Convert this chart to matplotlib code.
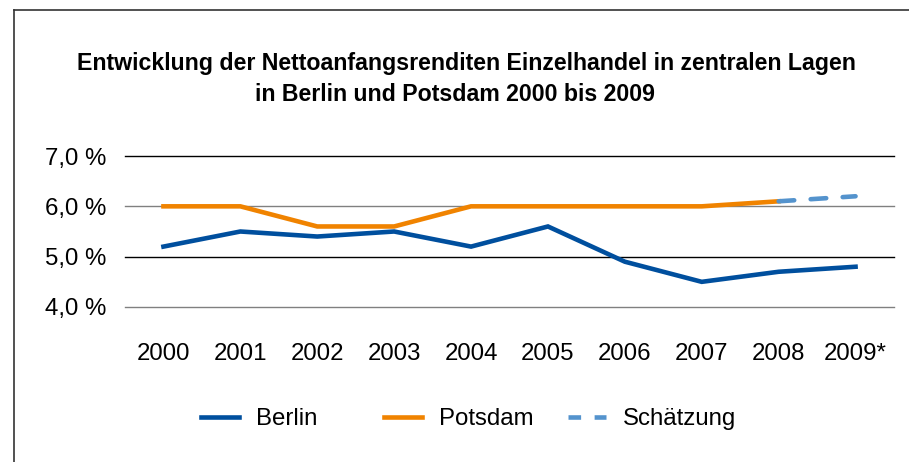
import matplotlib
matplotlib.use("Agg")
import matplotlib.pyplot as plt
from matplotlib.lines import Line2D

years = ["2000", "2001", "2002", "2003", "2004", "2005", "2006", "2007", "2008", "2009*"]
berlin = [5.2, 5.5, 5.4, 5.5, 5.2, 5.6, 4.9, 4.5, 4.7, 4.8]
potsdam = [6.0, 6.0, 5.6, 5.6, 6.0, 6.0, 6.0, 6.0, 6.1]
schaetzung_x = [8, 9]
schaetzung = [6.1, 6.2]
yticks = [4.0, 5.0, 6.0, 7.0]
ytick_labels = ["4,0 %", "5,0 %", "6,0 %", "7,0 %"]
title_lines = ["Entwicklung der Nettoanfangsrenditen Einzelhandel in zentralen Lagen",
               "in Berlin und Potsdam 2000 bis 2009"]
legend_labels = ["Berlin", "Potsdam", "Schätzung"]

plt.rcParams['font.family'] = ['Liberation Sans', 'DejaVu Sans']

W, H = 909, 462
fig = plt.figure(figsize=(W / 100, H / 100), dpi=100)
fig.patch.set_facecolor("white")

ax = fig.add_axes([125 / W, 1 - 307 / H, (894 - 125) / W, (307 - 156) / H])
ax.set_xlim(-0.5, 9.5)
ax.set_ylim(4.0, 7.0)

grid_colors = {4.0: "#808080", 5.0: "#000000", 6.0: "#808080", 7.0: "#000000"}
for y in yticks:
    ax.axhline(y, color=grid_colors[y], lw=1.0, zorder=1, clip_on=False)

blue = "#004f9e"
orange = "#f08300"
light = "#5493cd"
lw = 3.3
fs = 17.3

ax.plot(range(len(berlin)), berlin, color=blue, lw=lw, solid_joinstyle="miter", zorder=3)
ax.plot(range(len(potsdam)), potsdam, color=orange, lw=lw, solid_joinstyle="miter", zorder=3)
ax.plot(schaetzung_x, schaetzung, color=light, lw=lw, dashes=(3.4, 3.6),
        dash_capstyle="round", zorder=4)

for s in ax.spines.values():
    s.set_visible(False)
ax.set_yticks(yticks)
ax.set_yticklabels(ytick_labels, fontsize=fs)
ax.set_xticks(range(len(years)))
ax.set_xticklabels(years, fontsize=fs)
ax.tick_params(axis="y", length=0, pad=13.5)
ax.tick_params(axis="x", length=0, pad=26)

fig.text(466 / W, 1 - 70 / H, title_lines[0], ha="center", va="baseline",
         fontsize=16.7, fontweight="bold")
fig.text(455 / W, 1 - 101 / H, title_lines[1], ha="center", va="baseline",
         fontsize=16.7, fontweight="bold")

handles = [Line2D([], [], color=blue, lw=lw),
           Line2D([], [], color=orange, lw=lw),
           Line2D([], [], color=light, lw=lw, dashes=(2.75, 2.95))]
starts = [201, 384, 568]
for h, lab, x0 in zip(handles, legend_labels, starts):
    fig.legend([h], [lab], loc="center left", bbox_to_anchor=(x0 / W, 1 - 419 / H),
               frameon=False, fontsize=fs, handlelength=1.58, handletextpad=0.71,
               borderpad=0, borderaxespad=0)

# frame
fig.add_artist(Line2D([14 / W, 1.0], [1 - 10 / H, 1 - 10 / H], color="#333333", lw=1.2))
fig.add_artist(Line2D([14 / W, 14 / W], [1 - 10 / H, 0.0], color="#333333", lw=1.2))

fig.savefig("out.png", dpi=100, facecolor="white")
